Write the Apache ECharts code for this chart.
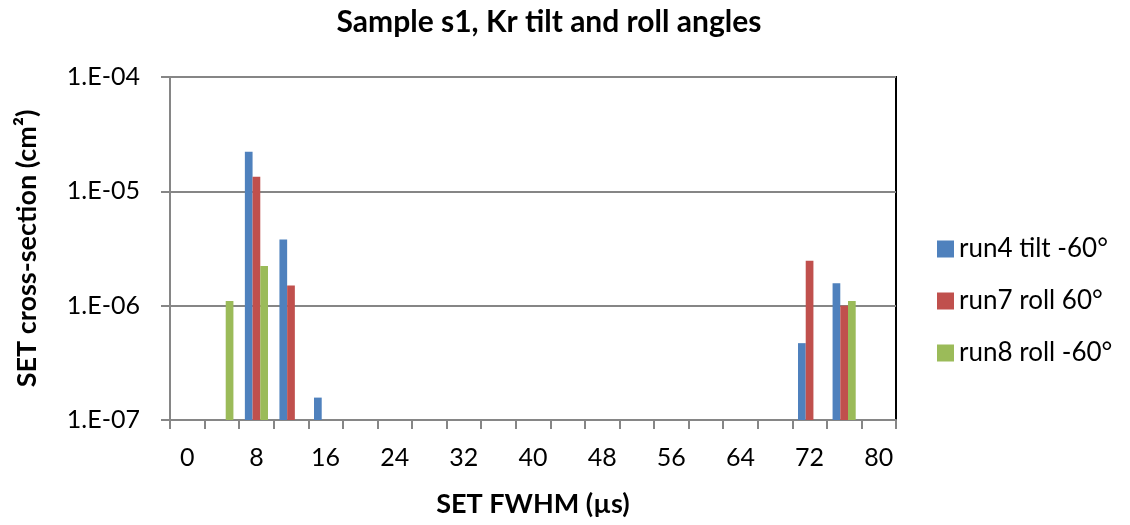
<!DOCTYPE html>
<html>
<head>
<meta charset="utf-8">
<script src="https://cdn.jsdelivr.net/npm/echarts@6/dist/echarts.min.js"></script>
<style>
  html, body { margin: 0; padding: 0; background: #fff; }
  #chart { width: 1130px; height: 525px; }
</style>
</head>
<body>
<div id="chart"></div>
<script>
// SET FWHM bins (µs)
const categories = ['0','4','8','12','16','20','24','28','32','36','40','44','48','52','56','60','64','68','72','76','80'];
// SET cross-section (cm²) per bin; null = no events
const run4Tilt = [null, null, 2.22e-5, 3.8e-6, 1.57e-7, null, null, null, null, null, null, null, null, null, null, null, null, null, 4.7e-7, 1.57e-6, null];
const run7Roll = [null, null, 1.34e-5, 1.5e-6, null, null, null, null, null, null, null, null, null, null, null, null, null, null, 2.47e-6, 1.0e-6, null];
const run8Roll = [null, 1.1e-6, 2.22e-6, null, null, null, null, null, null, null, null, null, null, null, null, null, null, null, null, 1.1e-6, null];
const seriesNames = ['run4 tilt -60°', 'run7 roll 60°', 'run8 roll -60°'];
const colors = ['#4F81BD', '#C0504D', '#9BBB59'];
const yMin = 1e-7, yMax = 1e-4;

const FONT = 'Lato, "Open Sans", sans-serif';

function sciLabel(v) {
  const e = Math.round(Math.log10(v));
  return '1.E' + (e < 0 ? '-' : '+') + String(Math.abs(e)).padStart(2, '0');
}

// Clustered columns on a log axis, each rising from the axis floor (yMin).
const nSeries = 3;
const barFrac = 0.223; // share of a category width taken by one column
function makeBars(values, k) {
  const data = [];
  values.forEach((v, i) => { if (v != null) data.push([i, v]); });
  return {
    name: seriesNames[k],
    type: 'custom',
    data: data,
    encode: { x: 0, y: 1 },
    itemStyle: { color: colors[k] },
    renderItem: function (params, api) {
      const idx = api.value(0);
      const top = api.coord([idx, api.value(1)]);
      const base = api.coord([idx, yMin]);
      const w = api.size([1, 0])[0];
      const bw = w * barFrac;
      const x = top[0] - nSeries * bw / 2 + k * bw;
      return {
        type: 'rect',
        shape: { x: x, y: top[1], width: bw, height: base[1] - top[1] },
        style: { fill: api.visual('color') }
      };
    }
  };
}

const chart = echarts.init(document.getElementById('chart'), null, { renderer: 'canvas' });
chart.setOption({
  backgroundColor: '#fff',
  animation: false,
  color: colors,
  title: {
    text: 'Sample s1, Kr tilt and roll angles',
    left: 544, top: 2, textAlign: 'center',
    textStyle: { fontFamily: FONT, fontWeight: 'bold', fontSize: 30, color: '#000' }
  },
  legend: {
    orient: 'vertical',
    left: 932, top: 231,
    itemWidth: 17, itemHeight: 17, itemGap: 26,
    icon: 'rect',
    data: seriesNames,
    textStyle: { fontFamily: FONT, fontSize: 26, color: '#000' }
  },
  grid: {
    left: 170, right: 234, top: 77, bottom: 105,
    show: true, borderColor: '#000', borderWidth: 2, backgroundColor: 'transparent'
  },
  xAxis: {
    type: 'category',
    data: categories,
    boundaryGap: true,
    name: 'SET FWHM (µs)',
    nameLocation: 'middle',
    nameGap: 71,
    nameTextStyle: { fontFamily: FONT, fontWeight: 'bold', fontSize: 27, color: '#000' },
    axisLine: { lineStyle: { color: '#868686', width: 2 } },
    axisTick: { show: true, interval: 0, length: 9, alignWithLabel: false, lineStyle: { color: '#868686', width: 2 } },
    axisLabel: { interval: 1, margin: 25, fontFamily: FONT, fontSize: 25, color: '#000' },
    splitLine: { show: false }
  },
  yAxis: {
    type: 'log',
    logBase: 10,
    min: yMin, max: yMax,
    name: 'SET cross-section (cm²)',
    nameLocation: 'middle',
    nameGap: 129,
    nameRotate: 90,
    nameTextStyle: { fontFamily: FONT, fontWeight: 'bold', fontSize: 27, color: '#000' },
    axisLine: { show: true, lineStyle: { color: '#868686', width: 2 } },
    axisTick: { show: true, length: 9, lineStyle: { color: '#868686', width: 2 } },
    axisLabel: { margin: 30, formatter: sciLabel, fontFamily: FONT, fontSize: 25, color: '#000' },
    splitLine: { show: true, lineStyle: { color: '#868686', width: 2 } },
    minorTick: { show: false }
  },
  series: [
    makeBars(run4Tilt, 0),
    makeBars(run7Roll, 1),
    makeBars(run8Roll, 2)
  ]
});
</script>
</body>
</html>
